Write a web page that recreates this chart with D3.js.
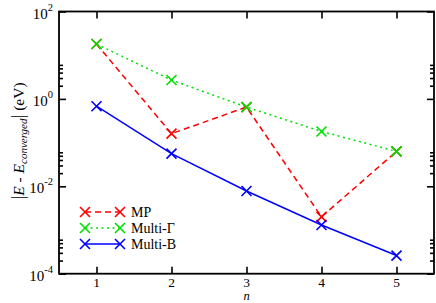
<!DOCTYPE html>
<html><head><meta charset="utf-8">
<script src="https://cdn.jsdelivr.net/npm/d3@7"></script>
<style>body{margin:0;background:#fff}svg{display:block}text{font-family:"Liberation Serif","Times New Roman",serif;fill:#000}</style>
</head><body><svg id="c" width="436" height="303"></svg>
<script>
const nValues = [1, 2, 3, 4, 5];
const mpValues = [18, 0.16, 0.65, 0.002, 0.063];
const multiGammaValues = [18, 2.7, 0.65, 0.18, 0.063];
const multiBValues = [0.68, 0.056, 0.0078, 0.0013, 0.00026];
const xTicks = [1, 2, 3, 4, 5];
const yMajorExps = [-4, -2, 0, 2];
const yMinorMult = [2, 3, 4, 5, 6];
const seriesNames = ["MP", "Multi-\u0393", "Multi-B"];

const svg = d3.select("#c");
const L = 59, R = 434, T = 11.5, B = 273.7;
const x = d3.scaleLinear().domain([0.5, 5.5]).range([L, R]);
const y = d3.scaleLog().domain([1e-4, 1e2]).range([B, T]);

const series = [
  {name: seriesNames[0], vals: mpValues, color: "#ff0000", dash: "6,4"},
  {name: seriesNames[1], vals: multiGammaValues, color: "#00e000", dash: "2,3.5"},
  {name: seriesNames[2], vals: multiBValues, color: "#0000ff", dash: null}
];

// axes ticks (inward on all sides)
const tl = 7, mtl = 4;
const axB = svg.append("g").attr("transform", `translate(0,${B})`)
  .call(d3.axisTop(x).tickValues(xTicks).tickSize(tl).tickFormat(""));
const axT = svg.append("g").attr("transform", `translate(0,${T})`)
  .call(d3.axisBottom(x).tickValues(xTicks).tickSize(tl).tickFormat(""));
const majors = yMajorExps.map(e => Math.pow(10, e));
const minors = [];
yMajorExps.slice(0, 3).forEach(e => yMinorMult.forEach(m => minors.push(m * Math.pow(10, e))));
const axL = svg.append("g").attr("transform", `translate(${L},0)`)
  .call(d3.axisRight(y).tickValues(majors).tickSize(tl).tickFormat(""));
const axLm = svg.append("g").attr("transform", `translate(${L},0)`)
  .call(d3.axisRight(y).tickValues(minors).tickSize(mtl).tickFormat(""));
const axR = svg.append("g").attr("transform", `translate(${R},0)`)
  .call(d3.axisLeft(y).tickValues(majors).tickSize(tl).tickFormat(""));
const axRm = svg.append("g").attr("transform", `translate(${R},0)`)
  .call(d3.axisLeft(y).tickValues(minors).tickSize(mtl).tickFormat(""));
[axB, axT, axL, axLm, axR, axRm].forEach(g => {
  g.select(".domain").remove();
  g.selectAll("line").attr("stroke", "#000").attr("stroke-width", 1.6);
});
svg.append("rect").attr("x", L).attr("y", T).attr("width", R - L).attr("height", B - T)
  .attr("fill", "none").attr("stroke", "#000").attr("stroke-width", 1.8);

// tick labels
xTicks.forEach(t => {
  svg.append("text").attr("x", x(t)).attr("y", B + 12.8).attr("text-anchor", "middle")
    .attr("font-size", 13.5).text(t);
});
yMajorExps.forEach(e => {
  const t = svg.append("text").attr("x", L - 6).attr("y", y(Math.pow(10, e)) + 7)
    .attr("text-anchor", "end").attr("font-size", 15);
  t.append("tspan").text("10");
  t.append("tspan").attr("dy", -8).attr("font-size", 10.5).text(e);
});

// axis titles
svg.append("text").attr("x", x(3)).attr("y", 300.2).attr("text-anchor", "middle")
  .attr("font-size", 12.5).attr("font-style", "italic").text("n");
const yl = svg.append("text").attr("transform", "translate(24,141) rotate(-90)")
  .attr("text-anchor", "middle").attr("font-size", 15.5);
yl.append("tspan").attr("font-size", 19).text("|");
yl.append("tspan").attr("font-style", "italic").text("E");
yl.append("tspan").text(" - ");
yl.append("tspan").attr("font-style", "italic").text("E");
yl.append("tspan").attr("font-style", "italic").attr("font-size", 11).attr("dy", 3).text("converged");
yl.append("tspan").attr("font-size", 19).attr("dy", -3).text("|");
yl.append("tspan").text(" (eV)");

// series
const line = d3.line().x((d, i) => x(nValues[i])).y(d => y(d));
const xMark = (g, cx, cy, color) => {
  const s = 5;
  g.append("path").attr("d", `M${cx - s},${cy - s}L${cx + s},${cy + s}M${cx - s},${cy + s}L${cx + s},${cy - s}`)
    .attr("stroke", color).attr("stroke-width", 1.6).attr("fill", "none");
};
series.forEach(s => {
  svg.append("path").datum(s.vals).attr("d", line).attr("fill", "none")
    .attr("stroke", s.color).attr("stroke-width", 1.5)
    .attr("stroke-dasharray", s.dash);
});
series.forEach(s => {
  const g = svg.append("g");
  s.vals.forEach((v, i) => xMark(g, x(nValues[i]), y(v), s.color));
});

// legend
const legY = [212, 228, 244];
series.forEach((s, i) => {
  const g = svg.append("g");
  g.append("line").attr("x1", 85).attr("x2", 120).attr("y1", legY[i]).attr("y2", legY[i])
    .attr("stroke", s.color).attr("stroke-width", 1.5).attr("stroke-dasharray", s.dash);
  xMark(g, 85, legY[i], s.color);
  xMark(g, 120, legY[i], s.color);
  g.append("text").attr("x", 131).attr("y", legY[i] + 5).attr("font-size", 14).text(s.name);
});
</script></body></html>
